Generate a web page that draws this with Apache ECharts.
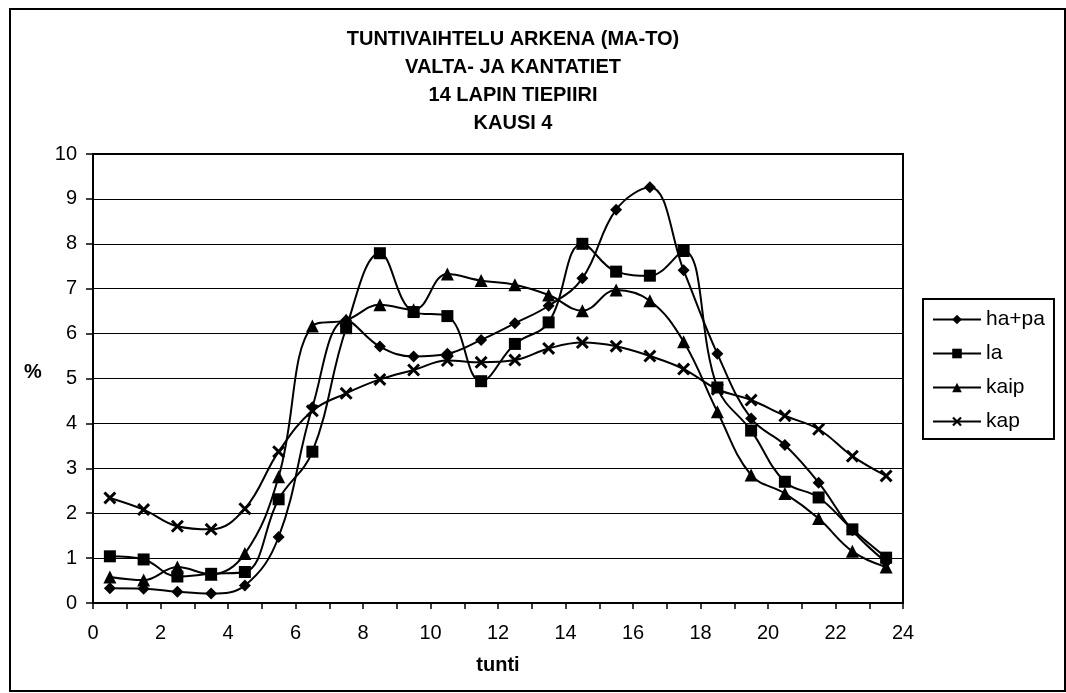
<!DOCTYPE html>
<html>
<head>
<meta charset="utf-8">
<script src="https://cdn.jsdelivr.net/npm/echarts@6/dist/echarts.min.js"></script>
<style>
  html, body { margin: 0; padding: 0; background: #fff; }
  #chart { width: 1066px; height: 693px; }
</style>
</head>
<body>
<div id="chart"></div>
<script>
// Hour of day at the middle of each one-hour bin
const hours = [0.5, 1.5, 2.5, 3.5, 4.5, 5.5, 6.5, 7.5, 8.5, 9.5, 10.5, 11.5,
               12.5, 13.5, 14.5, 15.5, 16.5, 17.5, 18.5, 19.5, 20.5, 21.5, 22.5, 23.5];

// Share of daily traffic (%) per hour by vehicle class
const haPa = [0.33, 0.32, 0.25, 0.21, 0.39, 1.47, 4.36, 6.30, 5.71, 5.49, 5.55, 5.86,
              6.23, 6.62, 7.23, 8.76, 9.26, 7.41, 5.55, 4.11, 3.52, 2.68, 1.62, 0.91];
const la   = [1.04, 0.97, 0.59, 0.65, 0.69, 2.31, 3.37, 6.12, 7.79, 6.48, 6.39, 4.94,
              5.77, 6.25, 8.00, 7.38, 7.29, 7.84, 4.80, 3.84, 2.70, 2.35, 1.64, 1.01];
const kaip = [0.58, 0.51, 0.80, 0.64, 1.10, 2.81, 6.17, 6.30, 6.64, 6.53, 7.33, 7.18,
              7.09, 6.86, 6.51, 6.97, 6.73, 5.82, 4.26, 2.85, 2.44, 1.88, 1.15, 0.80];
const kap  = [2.34, 2.08, 1.71, 1.64, 2.10, 3.37, 4.28, 4.67, 4.98, 5.19, 5.40, 5.36,
              5.41, 5.67, 5.80, 5.72, 5.50, 5.21, 4.76, 4.52, 4.17, 3.87, 3.27, 2.83];

const seriesNames = ['ha+pa', 'la', 'kaip', 'kap'];
const titleLines = ['TUNTIVAIHTELU ARKENA (MA-TO)', 'VALTA- JA KANTATIET', '14 LAPIN TIEPIIRI', 'KAUSI 4'];

const FONT = 'Liberation Sans, Arial, sans-serif';
// filled "x" marker
const crossPath = 'path://M0,1.6L1.6,0L5,3.4L8.4,0L10,1.6L6.6,5L10,8.4L8.4,10L5,6.6L1.6,10L0,8.4L3.4,5Z';

function pairs(vals) {
  return hours.map((h, i) => [h, vals[i]]);
}

function lineSeries(name, vals, symbol, size) {
  return {
    name: name,
    type: 'line',
    data: pairs(vals),
    smooth: 0.4,
    symbol: symbol,
    symbolSize: size,
    showSymbol: true,
    lineStyle: { color: '#000', width: 2 },
    itemStyle: { color: '#000' },
    emphasis: { disabled: true },
    z: 3
  };
}

const chart = echarts.init(document.getElementById('chart'), null, { renderer: 'canvas' });

chart.setOption({
  animation: false,
  backgroundColor: '#fff',
  textStyle: { fontFamily: FONT, color: '#000' },
  title: {
    text: titleLines.join('\n'),
    left: 508,
    top: 20,
    textAlign: 'center',
    textStyle: { fontFamily: FONT, fontSize: 20, fontWeight: 'bold', color: '#000', lineHeight: 28 }
  },
  grid: {
    left: 93, right: 163, top: 154, bottom: 90,
    show: true, borderColor: '#000', borderWidth: 2, backgroundColor: 'transparent'
  },
  legend: {
    orient: 'vertical',
    left: 923, top: 299,
    padding: [10, 9, 7, 9],
    itemWidth: 48,
    itemHeight: 12,
    itemGap: 13,
    borderColor: '#000',
    borderWidth: 2,
    selectedMode: false,
    data: seriesNames,
    textStyle: { fontFamily: FONT, fontSize: 21, color: '#000', lineHeight: 20 }
  },
  xAxis: {
    type: 'value',
    min: 0, max: 24, interval: 2,
    name: 'tunti',
    nameLocation: 'middle',
    nameGap: 52,
    nameTextStyle: { fontFamily: FONT, fontSize: 20, fontWeight: 'bold', color: '#000' },
    axisLine: { show: true, onZero: false, lineStyle: { color: '#000', width: 2 } },
    axisTick: { show: true, inside: false, length: 6, lineStyle: { color: '#000', width: 1.5 } },
    minorTick: { show: true, splitNumber: 2, length: 6, lineStyle: { color: '#000', width: 1.5 } },
    axisLabel: { fontFamily: FONT, fontSize: 20, color: '#000', margin: 20 },
    splitLine: { show: false }
  },
  yAxis: {
    type: 'value',
    min: 0, max: 10, interval: 1,
    axisLine: { show: true, lineStyle: { color: '#000', width: 2 } },
    axisTick: { show: true, inside: false, length: 7, lineStyle: { color: '#000', width: 1.5 } },
    axisLabel: { fontFamily: FONT, fontSize: 20, color: '#000', margin: 16 },
    splitLine: { show: true, lineStyle: { color: '#000', width: 1 } }
  },
  graphic: [{
    type: 'rect',
    shape: { x: 10, y: 9, width: 1055, height: 682 },
    style: { fill: 'none', stroke: '#000', lineWidth: 2 },
    silent: true,
    z: 0
  }, {
    // y-axis unit label
    type: 'text',
    left: 24, top: 362,
    style: { text: '%', font: 'bold 20px ' + FONT, fill: '#000' },
    silent: true
  }],
  series: [
    lineSeries(seriesNames[0], haPa, 'diamond', 12),
    lineSeries(seriesNames[1], la, 'rect', 12),
    lineSeries(seriesNames[2], kaip, 'triangle', 13),
    lineSeries(seriesNames[3], kap, crossPath, 13)
  ]
});
</script>
</body>
</html>
